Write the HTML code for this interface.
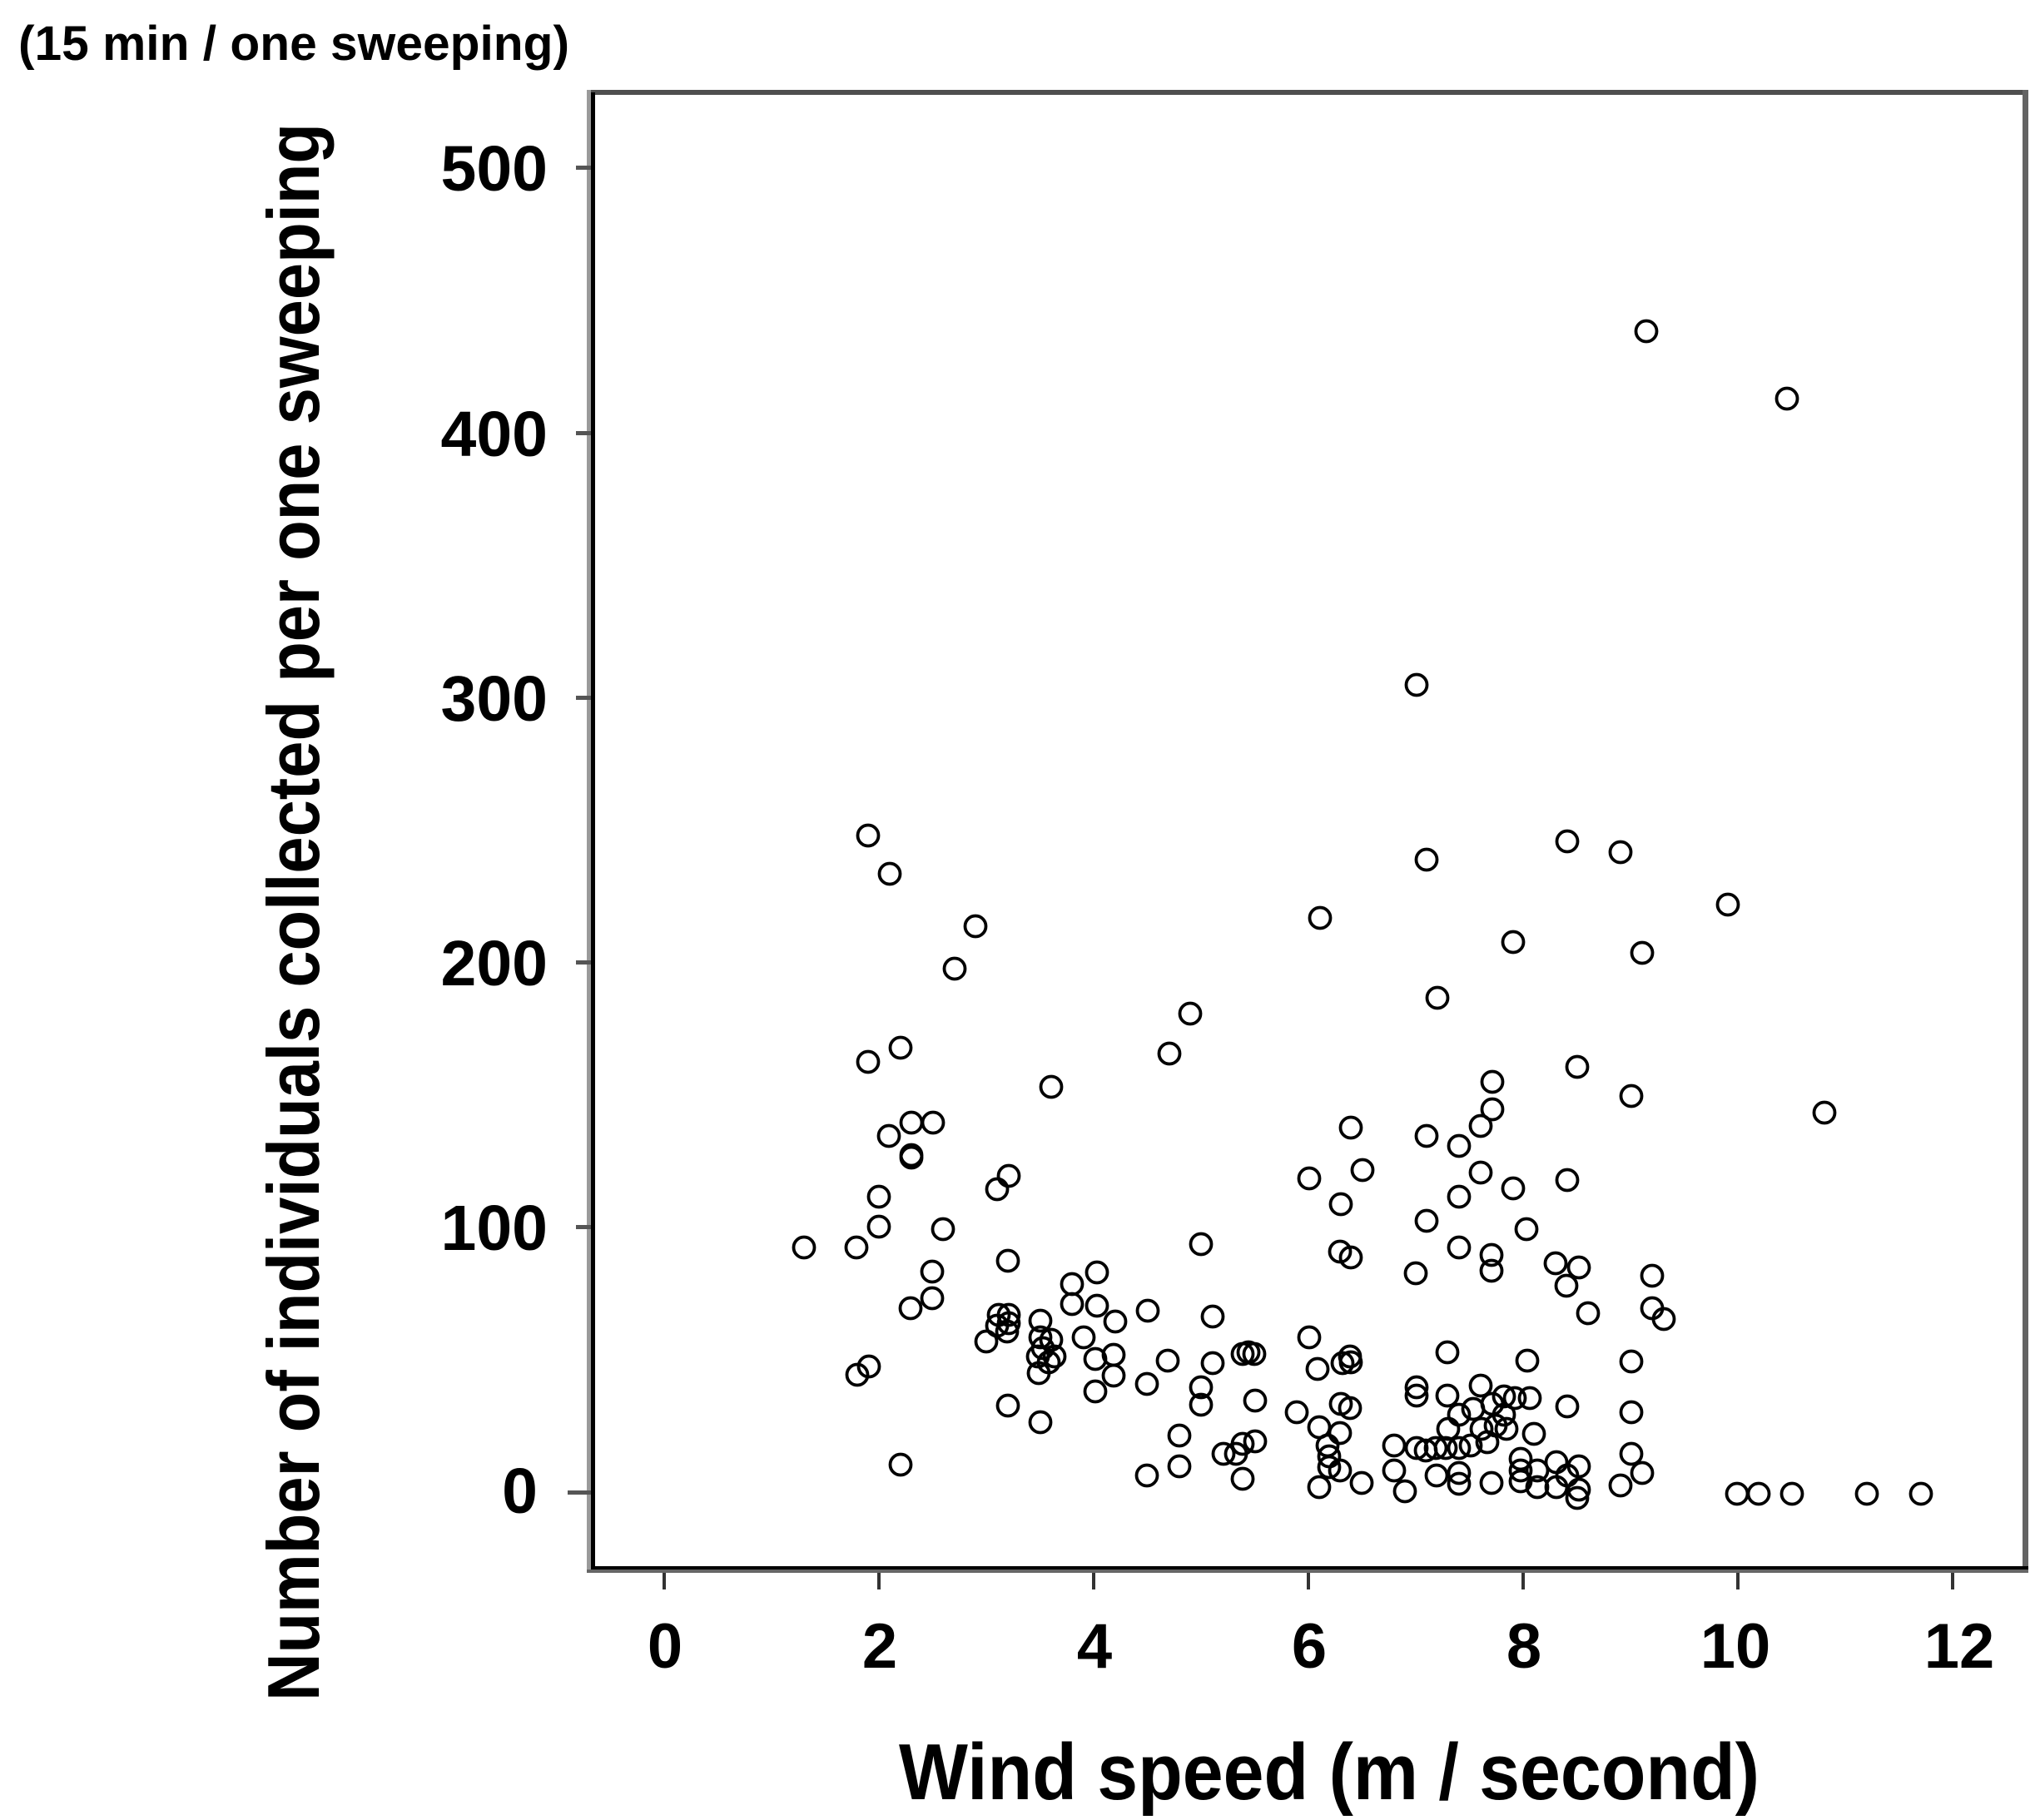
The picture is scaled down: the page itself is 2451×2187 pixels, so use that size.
<!DOCTYPE html>
<html>
<head>
<meta charset="utf-8">
<style>
html,body{margin:0;padding:0;background:#fff;}
svg{display:block;}
text{font-family:"Liberation Sans","DejaVu Sans",sans-serif;font-weight:bold;fill:#000;}
</style>
</head>
<body>
<svg width="2451" height="2187" viewBox="0 0 2451 2187" xmlns="http://www.w3.org/2000/svg">
<rect x="0" y="0" width="2451" height="2187" fill="#fff"/>
<text x="22" y="72" font-size="58" textLength="662" lengthAdjust="spacingAndGlyphs">(15 min / one sweeping)</text>
<text transform="translate(383,1096) rotate(-90)" x="0" y="0" font-size="88" text-anchor="middle" textLength="1896" lengthAdjust="spacingAndGlyphs">Number of individuals collected per one sweeping</text>
<text x="1080" y="2162" font-size="96" textLength="1034" lengthAdjust="spacingAndGlyphs">Wind speed (m / second)</text>
<rect x="708" y="108" width="1726" height="6" fill="#4f4f4f"/>
<rect x="2430" y="108" width="7" height="1782" fill="#636363"/>
<rect x="705" y="108" width="5" height="1782" fill="#9a9a9a"/>
<rect x="710" y="111" width="5" height="1775" fill="#000"/>
<rect x="710" y="1882" width="1727" height="4" fill="#000"/>
<rect x="705" y="1886" width="1732" height="4" fill="#666"/>
<g fill="#555">
<rect x="692" y="199" width="18" height="5"/>
<rect x="692" y="518" width="18" height="5"/>
<rect x="692" y="836" width="18" height="5"/>
<rect x="692" y="1154" width="18" height="5"/>
<rect x="692" y="1472" width="18" height="5"/>
<rect x="682" y="1791" width="28" height="5"/>
</g>
<g fill="#333">
<rect x="796" y="1890" width="4" height="20"/>
<rect x="1054" y="1890" width="4" height="20"/>
<rect x="1312" y="1890" width="4" height="20"/>
<rect x="1570" y="1890" width="4" height="20"/>
<rect x="1828" y="1890" width="4" height="20"/>
<rect x="2086" y="1890" width="4" height="20"/>
<rect x="2344" y="1890" width="4" height="20"/>
</g>
<g font-size="77" text-anchor="end">
<text x="658" y="229">500</text>
<text x="658" y="548">400</text>
<text x="658" y="866">300</text>
<text x="658" y="1184">200</text>
<text x="658" y="1502">100</text>
<text x="646" y="1818">0</text>
</g>
<g font-size="76" text-anchor="middle">
<text x="799" y="2004">0</text>
<text x="1057" y="2004">2</text>
<text x="1315" y="2004">4</text>
<text x="1573" y="2004">6</text>
<text x="1831" y="2004">8</text>
<text x="2085" y="2004">10</text>
<text x="2354" y="2004">12</text>
</g>
<g fill="none" stroke="#000" stroke-width="3.8">
<circle cx="1978" cy="398" r="12.5"/><circle cx="2147" cy="479" r="12.5"/><circle cx="1702" cy="823" r="12.5"/>
<circle cx="1043" cy="1004" r="12.5"/><circle cx="1069" cy="1050" r="12.5"/><circle cx="1172" cy="1113" r="12.5"/>
<circle cx="1147" cy="1164" r="12.5"/><circle cx="1082" cy="1259" r="12.5"/><circle cx="1043" cy="1276" r="12.5"/>
<circle cx="1263" cy="1306" r="12.5"/><circle cx="1714" cy="1033" r="12.5"/><circle cx="1586" cy="1103" r="12.5"/>
<circle cx="1818" cy="1132" r="12.5"/><circle cx="1727" cy="1199" r="12.5"/><circle cx="1430" cy="1218" r="12.5"/>
<circle cx="1405" cy="1266" r="12.5"/><circle cx="1793" cy="1300" r="12.5"/><circle cx="1883" cy="1011" r="12.5"/>
<circle cx="1947" cy="1024" r="12.5"/><circle cx="2076" cy="1087" r="12.5"/><circle cx="1973" cy="1145" r="12.5"/>
<circle cx="1895" cy="1282" r="12.5"/>
<circle cx="1095" cy="1349" r="12.5"/><circle cx="1121" cy="1349" r="12.5"/><circle cx="1068" cy="1365" r="12.5"/>
<circle cx="1095" cy="1388" r="12.5"/><circle cx="1095" cy="1391" r="12.5"/><circle cx="1212" cy="1413" r="12.5"/>
<circle cx="1198" cy="1429" r="12.5"/><circle cx="1056" cy="1438" r="12.5"/><circle cx="1056" cy="1474" r="12.5"/>
<circle cx="1133" cy="1477" r="12.5"/><circle cx="966" cy="1499" r="12.5"/><circle cx="1029" cy="1499" r="12.5"/>
<circle cx="1211" cy="1515" r="12.5"/><circle cx="1120" cy="1528" r="12.5"/><circle cx="1120" cy="1560" r="12.5"/>
<circle cx="1094" cy="1572" r="12.5"/><circle cx="1318" cy="1529" r="12.5"/><circle cx="1288" cy="1543" r="12.5"/>
<circle cx="1288" cy="1567" r="12.5"/><circle cx="1318" cy="1569" r="12.5"/><circle cx="1200" cy="1580" r="12.5"/>
<circle cx="1212" cy="1580" r="12.5"/><circle cx="1210" cy="1600" r="12.5"/><circle cx="1198" cy="1593" r="12.5"/>
<circle cx="1185" cy="1612" r="12.5"/><circle cx="1212" cy="1590" r="12.5"/><circle cx="1250" cy="1587" r="12.5"/>
<circle cx="1250" cy="1607" r="12.5"/><circle cx="1263" cy="1610" r="12.5"/><circle cx="1253" cy="1620" r="12.5"/>
<circle cx="1267" cy="1630" r="12.5"/><circle cx="1247" cy="1630" r="12.5"/><circle cx="1260" cy="1637" r="12.5"/>
<circle cx="1248" cy="1650" r="12.5"/><circle cx="1302" cy="1607" r="12.5"/><circle cx="1316" cy="1633" r="12.5"/>
<circle cx="1316" cy="1672" r="12.5"/><circle cx="1044" cy="1642" r="12.5"/><circle cx="1030" cy="1652" r="12.5"/>
<circle cx="1211" cy="1689" r="12.5"/><circle cx="1250" cy="1709" r="12.5"/><circle cx="1082" cy="1760" r="12.5"/>
<circle cx="1793" cy="1333" r="12.5"/><circle cx="1779" cy="1353" r="12.5"/><circle cx="1623" cy="1355" r="12.5"/>
<circle cx="1714" cy="1365" r="12.5"/><circle cx="1753" cy="1377" r="12.5"/><circle cx="1637" cy="1406" r="12.5"/>
<circle cx="1573" cy="1416" r="12.5"/><circle cx="1779" cy="1409" r="12.5"/><circle cx="1818" cy="1428" r="12.5"/>
<circle cx="1611" cy="1447" r="12.5"/><circle cx="1753" cy="1438" r="12.5"/><circle cx="1714" cy="1467" r="12.5"/>
<circle cx="1834" cy="1477" r="12.5"/><circle cx="1443" cy="1495" r="12.5"/><circle cx="1610" cy="1504" r="12.5"/>
<circle cx="1623" cy="1511" r="12.5"/><circle cx="1753" cy="1499" r="12.5"/><circle cx="1792" cy="1508" r="12.5"/>
<circle cx="1792" cy="1527" r="12.5"/><circle cx="1701" cy="1530" r="12.5"/><circle cx="1340" cy="1588" r="12.5"/>
<circle cx="1379" cy="1575" r="12.5"/><circle cx="1457" cy="1582" r="12.5"/><circle cx="1573" cy="1607" r="12.5"/>
<circle cx="1739" cy="1625" r="12.5"/><circle cx="1835" cy="1635" r="12.5"/><circle cx="1338" cy="1628" r="12.5"/>
<circle cx="1338" cy="1653" r="12.5"/><circle cx="1403" cy="1635" r="12.5"/><circle cx="1378" cy="1663" r="12.5"/>
<circle cx="1457" cy="1638" r="12.5"/><circle cx="1443" cy="1667" r="12.5"/><circle cx="1443" cy="1688" r="12.5"/>
<circle cx="1493" cy="1627" r="12.5"/><circle cx="1507" cy="1627" r="12.5"/><circle cx="1500" cy="1625" r="12.5"/>
<circle cx="1508" cy="1683" r="12.5"/><circle cx="1583" cy="1645" r="12.5"/><circle cx="1613" cy="1638" r="12.5"/>
<circle cx="1622" cy="1630" r="12.5"/><circle cx="1623" cy="1637" r="12.5"/><circle cx="1558" cy="1697" r="12.5"/>
<circle cx="1611" cy="1687" r="12.5"/><circle cx="1622" cy="1692" r="12.5"/><circle cx="1585" cy="1715" r="12.5"/>
<circle cx="1610" cy="1722" r="12.5"/><circle cx="1595" cy="1737" r="12.5"/><circle cx="1597" cy="1750" r="12.5"/>
<circle cx="1597" cy="1763" r="12.5"/><circle cx="1610" cy="1767" r="12.5"/><circle cx="1585" cy="1787" r="12.5"/>
<circle cx="1636" cy="1782" r="12.5"/><circle cx="1417" cy="1725" r="12.5"/><circle cx="1417" cy="1762" r="12.5"/>
<circle cx="1378" cy="1773" r="12.5"/><circle cx="1470" cy="1747" r="12.5"/><circle cx="1485" cy="1747" r="12.5"/>
<circle cx="1493" cy="1735" r="12.5"/><circle cx="1508" cy="1732" r="12.5"/><circle cx="1493" cy="1777" r="12.5"/>
<circle cx="1702" cy="1667" r="12.5"/><circle cx="1702" cy="1677" r="12.5"/><circle cx="1739" cy="1677" r="12.5"/>
<circle cx="1779" cy="1665" r="12.5"/><circle cx="1807" cy="1678" r="12.5"/><circle cx="1820" cy="1680" r="12.5"/>
<circle cx="1753" cy="1700" r="12.5"/><circle cx="1770" cy="1693" r="12.5"/><circle cx="1793" cy="1687" r="12.5"/>
<circle cx="1807" cy="1700" r="12.5"/><circle cx="1780" cy="1717" r="12.5"/><circle cx="1797" cy="1713" r="12.5"/>
<circle cx="1740" cy="1717" r="12.5"/><circle cx="1810" cy="1717" r="12.5"/><circle cx="1675" cy="1737" r="12.5"/>
<circle cx="1702" cy="1740" r="12.5"/><circle cx="1713" cy="1743" r="12.5"/><circle cx="1725" cy="1740" r="12.5"/>
<circle cx="1737" cy="1740" r="12.5"/><circle cx="1753" cy="1740" r="12.5"/><circle cx="1767" cy="1737" r="12.5"/>
<circle cx="1787" cy="1733" r="12.5"/><circle cx="1675" cy="1767" r="12.5"/><circle cx="1688" cy="1792" r="12.5"/>
<circle cx="1726" cy="1773" r="12.5"/><circle cx="1753" cy="1770" r="12.5"/><circle cx="1753" cy="1783" r="12.5"/>
<circle cx="1792" cy="1782" r="12.5"/><circle cx="1827" cy="1753" r="12.5"/><circle cx="1827" cy="1767" r="12.5"/>
<circle cx="1827" cy="1780" r="12.5"/>
<circle cx="1960" cy="1317" r="12.5"/><circle cx="2192" cy="1337" r="12.5"/><circle cx="1883" cy="1418" r="12.5"/>
<circle cx="1869" cy="1518" r="12.5"/><circle cx="1897" cy="1523" r="12.5"/><circle cx="1882" cy="1545" r="12.5"/>
<circle cx="1985" cy="1533" r="12.5"/><circle cx="1908" cy="1578" r="12.5"/><circle cx="1985" cy="1572" r="12.5"/>
<circle cx="1999" cy="1585" r="12.5"/><circle cx="1960" cy="1636" r="12.5"/><circle cx="1883" cy="1690" r="12.5"/>
<circle cx="1960" cy="1697" r="12.5"/><circle cx="1838" cy="1680" r="12.5"/><circle cx="1843" cy="1723" r="12.5"/>
<circle cx="1870" cy="1757" r="12.5"/><circle cx="1897" cy="1762" r="12.5"/><circle cx="1870" cy="1787" r="12.5"/>
<circle cx="1897" cy="1790" r="12.5"/><circle cx="1883" cy="1773" r="12.5"/><circle cx="1847" cy="1767" r="12.5"/>
<circle cx="1847" cy="1787" r="12.5"/><circle cx="1895" cy="1800" r="12.5"/><circle cx="1960" cy="1747" r="12.5"/>
<circle cx="1973" cy="1770" r="12.5"/><circle cx="1947" cy="1785" r="12.5"/><circle cx="2087" cy="1795" r="12.5"/>
<circle cx="2113" cy="1795" r="12.5"/><circle cx="2153" cy="1795" r="12.5"/><circle cx="2243" cy="1795" r="12.5"/>
<circle cx="2308" cy="1795" r="12.5"/>
</g>
</svg>
</body>
</html>
